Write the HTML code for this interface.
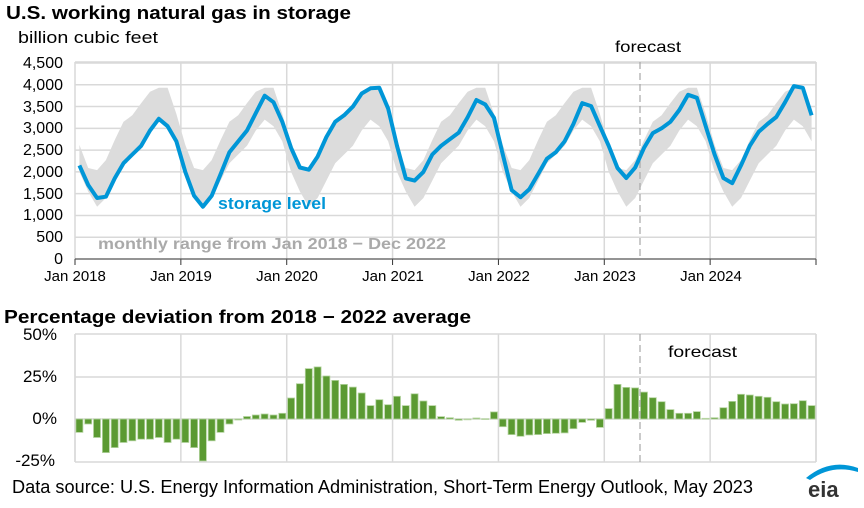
<!DOCTYPE html>
<html><head><meta charset="utf-8"><style>
html,body{margin:0;padding:0;background:#fff;}
svg{display:block;font-family:"Liberation Sans",Arial,sans-serif;}
</style></head><body>
<svg id="s" width="864" height="508" viewBox="0 0 864 508" xmlns="http://www.w3.org/2000/svg">
<g id="grid"></g>
<path id="band" fill="#dcdcdc" stroke="none"/>
<g id="bars"></g>
<line x1="640" y1="62" x2="640" y2="259" stroke="#a6a6a6" stroke-width="1.2" stroke-dasharray="7,4"/>
<line x1="640" y1="334" x2="640" y2="462" stroke="#a6a6a6" stroke-width="1.2" stroke-dasharray="7,4"/>
<polyline id="line" fill="none" stroke="#0096d7" stroke-width="4" stroke-linejoin="round"/>
<text x="6" y="19" font-size="18" font-weight="bold" textLength="345" lengthAdjust="spacingAndGlyphs">U.S. working natural gas in storage</text>
<text x="18" y="43" font-size="17" textLength="140" lengthAdjust="spacingAndGlyphs">billion cubic feet</text>
<text x="615" y="52" font-size="16" textLength="66" lengthAdjust="spacingAndGlyphs">forecast</text>
<text x="218" y="209" font-size="17" font-weight="bold" fill="#0096d7" textLength="108" lengthAdjust="spacingAndGlyphs">storage level</text>
<text x="98" y="249" font-size="16" font-weight="bold" fill="#aaaaaa" textLength="348" lengthAdjust="spacingAndGlyphs">monthly range from Jan 2018 − Dec 2022</text>
<g font-size="16" text-anchor="end">
<text x="63" y="68">4,500</text><text x="63" y="90">4,000</text><text x="63" y="112">3,500</text><text x="63" y="133">3,000</text><text x="63" y="155">2,500</text><text x="63" y="177">2,000</text><text x="63" y="199">1,500</text><text x="63" y="220">1,000</text><text x="63" y="242">500</text><text x="63" y="264">0</text>
</g>
<g font-size="15" text-anchor="middle">
<text x="75" y="281">Jan 2018</text><text x="181" y="281">Jan 2019</text><text x="287" y="281">Jan 2020</text><text x="393" y="281">Jan 2021</text><text x="499" y="281">Jan 2022</text><text x="605" y="281">Jan 2023</text><text x="711" y="281">Jan 2024</text>
</g>
<text x="4" y="323" font-size="18" font-weight="bold" textLength="467" lengthAdjust="spacingAndGlyphs">Percentage deviation from 2018 − 2022 average</text>
<g font-size="17" text-anchor="end">
<text x="57" y="340">50%</text><text x="57" y="382">25%</text><text x="57" y="424">0%</text><text x="55" y="466">-25%</text>
</g>
<text x="668" y="357" font-size="16" textLength="69" lengthAdjust="spacingAndGlyphs">forecast</text>
<text x="12" y="493" font-size="18" textLength="741" lengthAdjust="spacingAndGlyphs">Data source: U.S. Energy Information Administration, Short-Term Energy Outlook, May 2023</text>
<g>
<path d="M806 478 Q830 458 858 468 L858 472 Q832 464 810 480 Z" fill="#0096d7"/>
<text x="808" y="497" font-size="22" font-weight="bold" fill="#333">eia</text>
</g>
</svg>
<script>
var NS="http://www.w3.org/2000/svg";
function el(p,t,a){var e=document.createElementNS(NS,t);for(var k in a)e.setAttribute(k,a[k]);p.appendChild(e);return e;}
var g=document.getElementById('grid'),L=75,R=816,W=(R-L)/84;
function yt(v){return 259-v/4500*196;}
function yb(p){return 419-p*1.68;}
for(var v=500;v<=4500;v+=500)el(g,'line',{x1:L,x2:R,y1:yt(v),y2:yt(v),stroke:'#d9d9d9','stroke-width':1.5});
for(var i=0;i<=7;i++){var x=L+i*12*W;
 if(i>0)el(g,'line',{x1:x,x2:x,y1:62,y2:259,stroke:'#d9d9d9','stroke-width':1.5});
 el(g,'line',{x1:x,x2:x,y1:259,y2:265,stroke:'#333','stroke-width':1});
 el(g,'line',{x1:x,x2:x,y1:334,y2:462,stroke:'#d9d9d9','stroke-width':1.5});}
el(g,'line',{x1:L,x2:R,y1:62,y2:62,stroke:'#d9d9d9','stroke-width':1.5});
el(g,'line',{x1:L,x2:L,y1:62,y2:259,stroke:'#d9d9d9','stroke-width':1.5});
el(g,'line',{x1:R,x2:R,y1:62,y2:259,stroke:'#d9d9d9','stroke-width':1.5});
el(g,'line',{x1:L,x2:R,y1:259,y2:259,stroke:'#555','stroke-width':1.2});
[334,377,419,462].forEach(function(y){el(g,'line',{x1:L,x2:R,y1:y,y2:y,stroke:'#d9d9d9','stroke-width':1.5});});
el(g,'line',{x1:L,x2:L,y1:334,y2:462,stroke:'#d9d9d9','stroke-width':1.5});
el(g,'line',{x1:R,x2:R,y1:334,y2:462,stroke:'#d9d9d9','stroke-width':1.5});
var S=[2150,1700,1400,1430,1850,2200,2400,2600,2950,3220,3050,2700,
2000,1450,1200,1450,1950,2450,2700,2950,3350,3750,3600,3150,
2550,2100,2050,2350,2800,3150,3300,3500,3800,3920,3930,3450,
2600,1850,1800,2000,2400,2600,2750,2900,3250,3650,3550,3240,
2400,1580,1420,1600,1950,2300,2450,2700,3100,3580,3510,3050,
2600,2090,1860,2100,2550,2890,3000,3150,3420,3770,3700,3050,
2400,1860,1740,2150,2600,2920,3100,3260,3600,3970,3930,3300];
var HI=[2620,2090,2040,2270,2730,3150,3300,3580,3840,3930,3930,3330],
LO=[2000,1550,1200,1400,1800,2200,2400,2600,2950,3200,3050,2700];
function xc(i){return L+W*(i+0.5);}
var pts=S.map(function(v,i){return xc(i).toFixed(1)+','+yt(v).toFixed(1);}).join(' ');
document.getElementById('line').setAttribute('points',pts);
var d='M';for(var i=0;i<84;i++)d+=xc(i).toFixed(1)+' '+yt(HI[i%12]).toFixed(1)+' L';
for(var i=83;i>=0;i--)d+=xc(i).toFixed(1)+' '+yt(LO[i%12]).toFixed(1)+(i?' L':' Z');
document.getElementById('band').setAttribute('d',d);
var P=[-8,-3,-11,-20,-17,-14,-13,-12,-12,-11,-14,-12,
-14,-17,-25,-13,-8,-3,-0.6,1.5,2.4,3,2.4,3.4,
12.5,21,30,31,25.6,23,20.6,19,15.5,8,11.5,8.5,
13.5,8,15,10.7,8,1.4,0.8,-0.8,-0.4,0.6,0.2,4.2,
-4.6,-9.3,-10.3,-9.5,-9.3,-8.7,-8.5,-8.3,-5.8,-2,-0.8,-5,
6.2,20.6,18.8,18.5,16,12.7,10.3,5.6,3.4,3.4,4.4,0.4,
0.8,6.7,10.5,14.7,14.3,13.5,12.9,10.3,8.9,9.1,10.9,8];
var b=document.getElementById('bars');
P.forEach(function(p,i){var y0=yb(0),y1=yb(p);
 el(b,'rect',{x:(L+W*i+0.9).toFixed(1),y:Math.min(y0,y1).toFixed(1),width:7,height:Math.max(Math.abs(y1-y0),0.8).toFixed(1),fill:'#5b9a32',stroke:'#b5d4a0','stroke-width':0.8});});
</script>
</body></html>
